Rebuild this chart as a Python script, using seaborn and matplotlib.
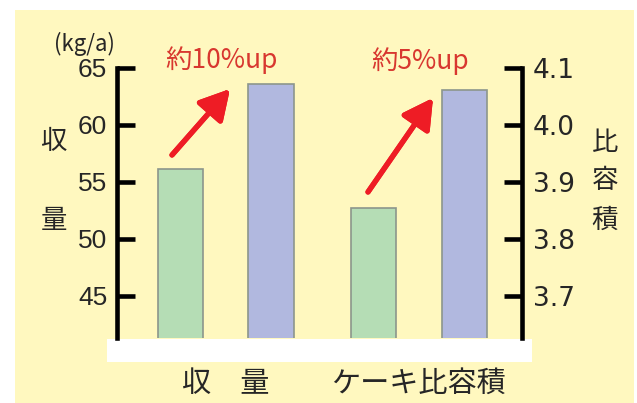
import matplotlib
matplotlib.use("Agg")
import matplotlib.pyplot as plt
import seaborn as sns
import pandas as pd
from matplotlib.patches import Rectangle

# ---- data ----
categories = ["収　量", "ケーキ比容積"]
treatments = ["従来", "改良"]
yield_values = [56.1, 63.6]          # kg/a
volume_values = [3.854, 4.061]       # specific volume
left_ticks = [45, 50, 55, 60, 65]
right_ticks = [3.7, 3.8, 3.9, 4.0, 4.1]
right_tick_labels = ["3.7", "3.8", "3.9", "4.0", "4.1"]
gain_labels = ["約10%up", "約5%up"]

sns.set_theme(style="white")
plt.rcParams["font.family"] = ["Noto Sans CJK JP", "DejaVu Sans"]

BG = "#FFF8BF"
GREEN = "#B5DDB5"
BLUE = "#B1B8DF"
EDGE = "#8C968C"
RED_TXT = "#D8372F"
RED_ARROW = "#EE1C25"
palette = {treatments[0]: GREEN, treatments[1]: BLUE}

df_yield = pd.DataFrame({"cat": [categories[0]] * 2, "trt": treatments, "val": yield_values})
df_vol = pd.DataFrame({"cat": [categories[1]] * 2, "trt": treatments, "val": volume_values})

fig = plt.figure(figsize=(6.37, 4.03), dpi=100)
fig.patch.set_facecolor("white")
W, H = 637, 403
fig.patches.append(Rectangle((15 / W, 0), (634 - 15) / W, (H - 10) / H,
                             transform=fig.transFigure, facecolor=BG, edgecolor="none", zorder=-2))
fig.patches.append(Rectangle((107 / W, 1 - 362 / H), (532 - 107) / W, 23 / H,
                             transform=fig.transFigure, facecolor="white", edgecolor="none", zorder=-1))

ax = fig.add_axes([117 / W, 1 - 338 / H, (522 - 117) / W, (338 - 68) / H])
ax.set_facecolor("none")
ax2 = ax.twinx()
ax2.set_facecolor("none")

common = dict(x="cat", y="val", hue="trt", order=categories, hue_order=treatments,
              palette=palette, width=0.94, gap=0.5, edgecolor=EDGE, linewidth=1.2,
              legend=False, saturation=1)
sns.barplot(data=df_yield, ax=ax, **common)
sns.barplot(data=df_vol, ax=ax2, **common)

ax.set_xlim(-0.563, 1.534)
ax2.set_xlim(-0.563, 1.534)
ax.set_ylim(41.3, 65)
ax2.set_ylim(3.626, 4.1)

for a in (ax, ax2):
    for s in a.spines.values():
        s.set_visible(False)
    a.set_xlabel("")
    a.set_ylabel("")
ax.spines["left"].set_visible(True)
ax.spines["left"].set_linewidth(3.3)
ax.spines["left"].set_color("black")
ax2.spines["right"].set_visible(True)
ax2.spines["right"].set_linewidth(3.3)
ax2.spines["right"].set_color("black")

num_font = ["Liberation Sans Narrow", "Liberation Sans", "DejaVu Sans"]
ax.set_yticks(left_ticks)
ax.set_yticklabels([str(t) for t in left_ticks], fontsize=19, family=num_font)
ax.tick_params(axis="y", left=True, direction="in", length=13, width=3.3, color="black", pad=7)
ax2.set_yticks(right_ticks)
ax2.set_yticklabels(right_tick_labels, fontsize=19, family=["DejaVu Sans"])
ax2.tick_params(axis="y", right=True, direction="in", length=13, width=3.3, color="black", pad=8)

ax.set_xticks([0, 1])
ax.set_xticklabels(categories, fontsize=21)
ax.tick_params(axis="x", length=0, pad=22)
ax2.tick_params(axis="x", length=0, labelbottom=False)

# axis titles
fig.text(84 / W, 1 - 44 / H, "(kg/a)", fontsize=16, ha="center", va="center")
fig.text(53 / W, 1 - 141 / H, "収", fontsize=19, ha="center", va="center")
fig.text(54 / W, 1 - 220 / H, "量", fontsize=19, ha="center", va="center")
for ch, yy in zip("比容積", [142, 180, 220]):
    fig.text(605 / W, 1 - yy / H, ch, fontsize=19, ha="center", va="center")

# gain annotations
fig.text(221 / W, 1 - 60 / H, gain_labels[0], fontsize=19, color=RED_TXT, ha="center", va="center")
fig.text(420 / W, 1 - 61 / H, gain_labels[1], fontsize=19, color=RED_TXT, ha="center", va="center")
arrow = dict(arrowstyle="-|>,head_length=0.9,head_width=0.5", lw=3.8, color=RED_ARROW,
             shrinkA=0, shrinkB=0, mutation_scale=20)
fig.add_artist(plt.annotate("", xy=(230 / W, 1 - 89 / H), xytext=(172 / W, 1 - 155 / H),
                            xycoords="figure fraction", textcoords="figure fraction",
                            arrowprops=arrow))
fig.add_artist(plt.annotate("", xy=(433 / W, 1 - 98 / H), xytext=(368 / W, 1 - 192 / H),
                            xycoords="figure fraction", textcoords="figure fraction",
                            arrowprops=arrow))

fig.savefig("out.png", dpi=100)
